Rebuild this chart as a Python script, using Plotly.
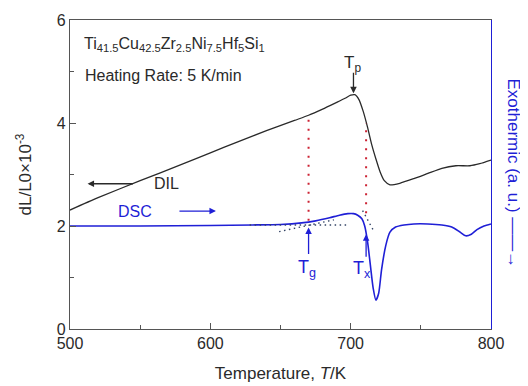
import plotly.graph_objects as go

# ---- data ----
dil_T = [500, 520, 550, 580, 600, 620, 640, 660, 670, 680, 690, 696, 700, 703, 706, 709, 712, 715, 718, 721, 724, 728, 735, 745, 755, 765, 775, 785, 792, 800]
dil_v = [2.31, 2.55, 2.88, 3.20, 3.42, 3.64, 3.85, 4.05, 4.15, 4.27, 4.40, 4.48, 4.54, 4.55, 4.45, 4.22, 3.92, 3.58, 3.30, 3.05, 2.88, 2.80, 2.83, 2.92, 3.02, 3.12, 3.17, 3.17, 3.21, 3.28]

dsc_T = [500, 550, 600, 630, 650, 665, 675, 685, 692, 698, 702, 705, 708, 710, 712, 714, 716, 718, 720, 722, 725, 728, 732, 738, 745, 755, 765, 772, 778, 782, 786, 790, 795, 800]
dsc_v = [2.00, 2.00, 2.01, 2.02, 2.03, 2.06, 2.10, 2.16, 2.21, 2.24, 2.24, 2.21, 2.14, 2.00, 1.70, 1.25, 0.80, 0.56, 0.70, 1.15, 1.62, 1.88, 1.98, 2.02, 2.04, 2.04, 2.02, 1.98, 1.88, 1.81, 1.84, 1.93, 2.00, 2.04]

tan_base_T = [628, 698]
tan_base_v = [2.02, 2.02]
tan_rise_T = [649, 688]
tan_rise_v = [1.89, 2.12]
tan_drop_T = [708.5, 716.5]
tan_drop_v = [2.30, 1.90]

tg_T = [670, 670]
tg_v = [2.10, 4.16]
tx_T = [711, 711]
tx_v = [2.25, 4.00]

x_ticks = [500, 600, 700, 800]
y_ticks = [0, 2, 4, 6]

BLUE = "#1f1fd6"
DARK = "#2a2a2a"
AX = "#555555"
FONT = "Liberation Sans, Arial, sans-serif"

fig = go.Figure()
fig.add_trace(go.Scatter(x=dil_T, y=dil_v, mode="lines", line=dict(color=DARK, width=1.3, shape="spline", smoothing=0.6), showlegend=False))
fig.add_trace(go.Scatter(x=dsc_T, y=dsc_v, mode="lines", line=dict(color=BLUE, width=1.6, shape="spline", smoothing=0.6), showlegend=False, yaxis="y2"))
for tx, tv in [(tan_base_T, tan_base_v), (tan_rise_T, tan_rise_v), (tan_drop_T, tan_drop_v)]:
    fig.add_trace(go.Scatter(x=tx, y=tv, mode="lines", line=dict(color="#334466", width=1.4, dash="1.5px,3.5px"), showlegend=False, yaxis="y2"))
for tx, tv in [(tg_T, tg_v), (tx_T, tx_v)]:
    fig.add_trace(go.Scatter(x=tx, y=tv, mode="lines", line=dict(color="#cc2233", width=2, dash="2px,7px"), showlegend=False))

ann = []
def arrow(x, y, ax, ay, color):
    ann.append(dict(x=x, y=y, ax=ax, ay=ay, xref="x", yref="y", text="", showarrow=True,
                    arrowhead=2, arrowsize=1, arrowwidth=1.3, arrowcolor=color))
def label(x, y, text, color, size=16, xanchor="center"):
    ann.append(dict(x=x, y=y, xref="x", yref="y", text=text, showarrow=False,
                    font=dict(family=FONT, size=size, color=color), xanchor=xanchor, yanchor="middle"))

arrow(702, 4.58, 0, -22, DARK)
label(701, 5.15, "T<sub>p</sub>", DARK, 17)
arrow(670, 1.97, 0, 28, BLUE)
label(669, 1.18, "T<sub>g</sub>", BLUE, 18)
arrow(711, 1.84, 0, 24, BLUE)
label(708, 1.16, "T<sub>x</sub>", BLUE, 18)
arrow(512.5, 2.82, 47, 0, DARK)
label(568.5, 2.82, "DIL", DARK, 16)
arrow(604, 2.29, -38, 0, BLUE)
label(546, 2.29, "DSC", BLUE, 16)
label(508.5, 5.53, "Ti<sub>41.5</sub>Cu<sub>42.5</sub>Zr<sub>2.5</sub>Ni<sub>7.5</sub>Hf<sub>5</sub>Si<sub>1</sub>", DARK, 16, "left")
label(509, 4.93, "Heating Rate: 5 K/min", DARK, 16, "left")

ann.append(dict(x=1.0, y=0.505, xref="paper", yref="paper", text="Exothermic (a. u.) \u2014\u2014\u2192", textangle=90,
                showarrow=False, xanchor="left", xshift=11, font=dict(family=FONT, size=17, color=BLUE)))

fig.update_layout(
    width=520, height=378,
    margin=dict(l=62, r=37, t=12, b=57),
    paper_bgcolor="white", plot_bgcolor="white",
    font=dict(family=FONT, size=16, color=DARK),
    annotations=ann,
    xaxis=dict(range=[500, 800], tickvals=x_ticks, ticks="inside", ticklen=6, tickcolor=AX,
               showline=True, linecolor=AX, linewidth=1.2, mirror=True, showgrid=False, zeroline=False,
               minor=dict(ticks="inside", dtick=50, ticklen=4, tickcolor=AX),
               title=dict(text="Temperature, <i>T</i>/K", standoff=15, font=dict(size=17)),
               tickfont=dict(size=16), automargin=False),
    yaxis=dict(range=[0, 6], tickvals=y_ticks, ticks="inside", ticklen=6, tickcolor=AX,
               showline=True, linecolor=AX, linewidth=1.2, showgrid=False, zeroline=False,
               minor=dict(ticks="inside", dtick=1, ticklen=4, tickcolor=AX),
               title=dict(text="dL/L0\u00d710<sup>-3</sup>", standoff=20, font=dict(size=17)),
               tickfont=dict(size=16), automargin=False),
    yaxis2=dict(range=[0, 6], overlaying="y", side="right", showline=True, linecolor=BLUE, linewidth=1.2,
                showticklabels=False, ticks="", showgrid=False, zeroline=False, automargin=False),
)

fig.write_html("out.html")
